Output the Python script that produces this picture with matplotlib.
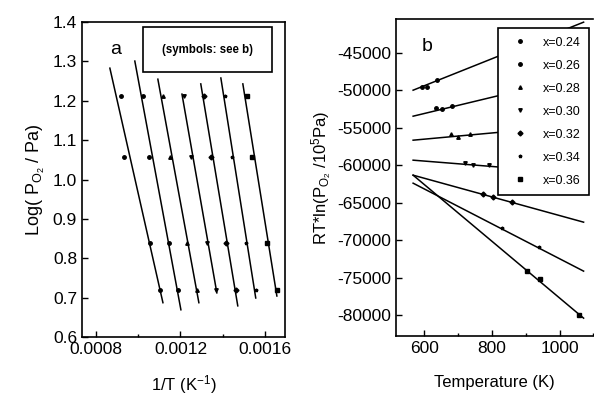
import matplotlib
matplotlib.use("Agg")
import matplotlib.pyplot as plt
from matplotlib.patches import Rectangle
from matplotlib.ticker import MultipleLocator

plt.rcParams['font.family'] = ['Liberation Sans', 'DejaVu Sans']
plt.rcParams['mathtext.default'] = 'regular'
plt.rcParams['axes.unicode_minus'] = False

# compositions and marker symbols
labels = ['x=0.24', 'x=0.26', 'x=0.28', 'x=0.30', 'x=0.32', 'x=0.34', 'x=0.36']
markers = ['o', 'o', '^', 'v', 'D', '*', 's']

# panel a: points (1/T, log P) -- 4 levels, one point per composition
logp_levels = [1.212, 1.057, 0.839, 0.719]
invT_rows = [
    [0.000918, 0.001022, 0.001117, 0.001216, 0.001311, 0.001410, 0.001514],
    [0.000932, 0.001051, 0.001150, 0.001249, 0.001344, 0.001443, 0.001538],
    [0.001055, 0.001145, 0.001230, 0.001325, 0.001415, 0.001509, 0.001609],
    [0.001103, 0.001188, 0.001278, 0.001367, 0.001462, 0.001556, 0.001656],
]
# panel a: fitted lines (start/end)
fit_a_x0 = [0.000866, 0.000984, 0.001093, 0.001207, 0.001296, 0.001391, 0.001495]
fit_a_y0 = [1.283, 1.301, 1.255, 1.217, 1.243, 1.258, 1.243]
fit_a_x1 = [0.001117, 0.001202, 0.001287, 0.001372, 0.001471, 0.001556, 0.001656]
fit_a_y1 = [0.687, 0.669, 0.687, 0.712, 0.679, 0.699, 0.704]

# panel b: points (T, RT ln P)
temps = [
    [594, 609, 639],
    [636, 653, 683],
    [680, 701, 736],
    [721, 745, 790],
    [775, 804, 858],
    [831, 938],
    [905, 941, 1056],
]
rtlnp = [
    [-49550, -49550, -48670],
    [-52400, -52530, -52130],
    [-55870, -56270, -55870],
    [-59730, -60000, -60000],
    [-63870, -64270, -64930],
    [-68400, -70930],
    [-74130, -75200, -80000],
]
fit_b_T = [567, 1071]
fit_b_start = [-50000, -53467, -56667, -59333, -61333, -62400, -61333]
fit_b_end = [-40928, -48000, -54585, -61147, -67600, -74130, -80400]

fig = plt.figure(figsize=(5.94, 3.95), dpi=100)
axa = fig.add_axes([0.138, 0.147, 0.342, 0.797])
axb = fig.add_axes([0.667, 0.149, 0.332, 0.803])

lw = 1.1
for i in range(7):
    axa.plot([fit_a_x0[i], fit_a_x1[i]], [fit_a_y0[i], fit_a_y1[i]], color='black', lw=lw)
    xs = [row[i] for row in invT_rows]
    axa.plot(xs, logp_levels, ls='none', marker=markers[i], ms=2.5, color='black')

axa.set_xlim(0.000734, 0.001695)
axa.set_ylim(0.6, 1.4)
axa.xaxis.set_major_locator(MultipleLocator(0.0004))
axa.xaxis.set_minor_locator(MultipleLocator(0.0002))
axa.yaxis.set_major_locator(MultipleLocator(0.1))
axa.set_xticks([0.0008, 0.0012, 0.0016])
axa.set_xticklabels(['0.0008', '0.0012', '0.0016'])
axa.set_xlabel('1/T (K$^{-1}$)', fontsize=12, labelpad=12)
axa.set_ylabel('Log( P$_{O_2}$ / Pa)', fontsize=13, labelpad=4)
axa.text(0.14, 0.9, 'a', transform=axa.transAxes, fontsize=14)
axa.add_patch(Rectangle((0.30, 0.841), 0.636, 0.143, transform=axa.transAxes,
                        facecolor='white', edgecolor='black', lw=1.2, zorder=5))
axa.text(0.618, 0.912, '(symbols: see b)', transform=axa.transAxes, fontsize=8.3,
         fontweight='bold', ha='center', va='center', zorder=6)

for i in range(7):
    axb.plot(fit_b_T, [fit_b_start[i], fit_b_end[i]], color='black', lw=lw)
    axb.plot(temps[i], rtlnp[i], ls='none', marker=markers[i], ms=2.5,
             color='black', label=labels[i])

axb.set_xlim(517, 1100)
axb.set_ylim(-82800, -40500)
axb.xaxis.set_major_locator(MultipleLocator(200))
axb.xaxis.set_minor_locator(MultipleLocator(100))
axb.yaxis.set_major_locator(MultipleLocator(5000))
axb.set_xlabel('Temperature (K)', fontsize=12, labelpad=14)
axb.set_ylabel('RT*ln(P$_{O_2}$ /10$^5$Pa)', fontsize=12, labelpad=2)
axb.text(0.13, 0.9, 'b', transform=axb.transAxes, fontsize=14)
leg = axb.legend(loc='upper right', bbox_to_anchor=(0.98, 0.972), fontsize=9,
                 frameon=True, fancybox=False, edgecolor='black', framealpha=1,
                 labelspacing=0.88, handlelength=2.2, markerscale=1.0,
                 borderpad=0.7, borderaxespad=0, handletextpad=0.7)
leg.get_frame().set_linewidth(1.2)
leg.set_zorder(10)

for ax in (axa, axb):
    ax.tick_params(direction='in', which='both', labelsize=12.5, length=4, width=1)
    ax.tick_params(which='minor', length=2.5)
    ax.tick_params(top=False, right=False)
    for s in ax.spines.values():
        s.set_linewidth(1.2)
axb.spines['right'].set_visible(False)

fig.savefig('out.png', dpi=100)
